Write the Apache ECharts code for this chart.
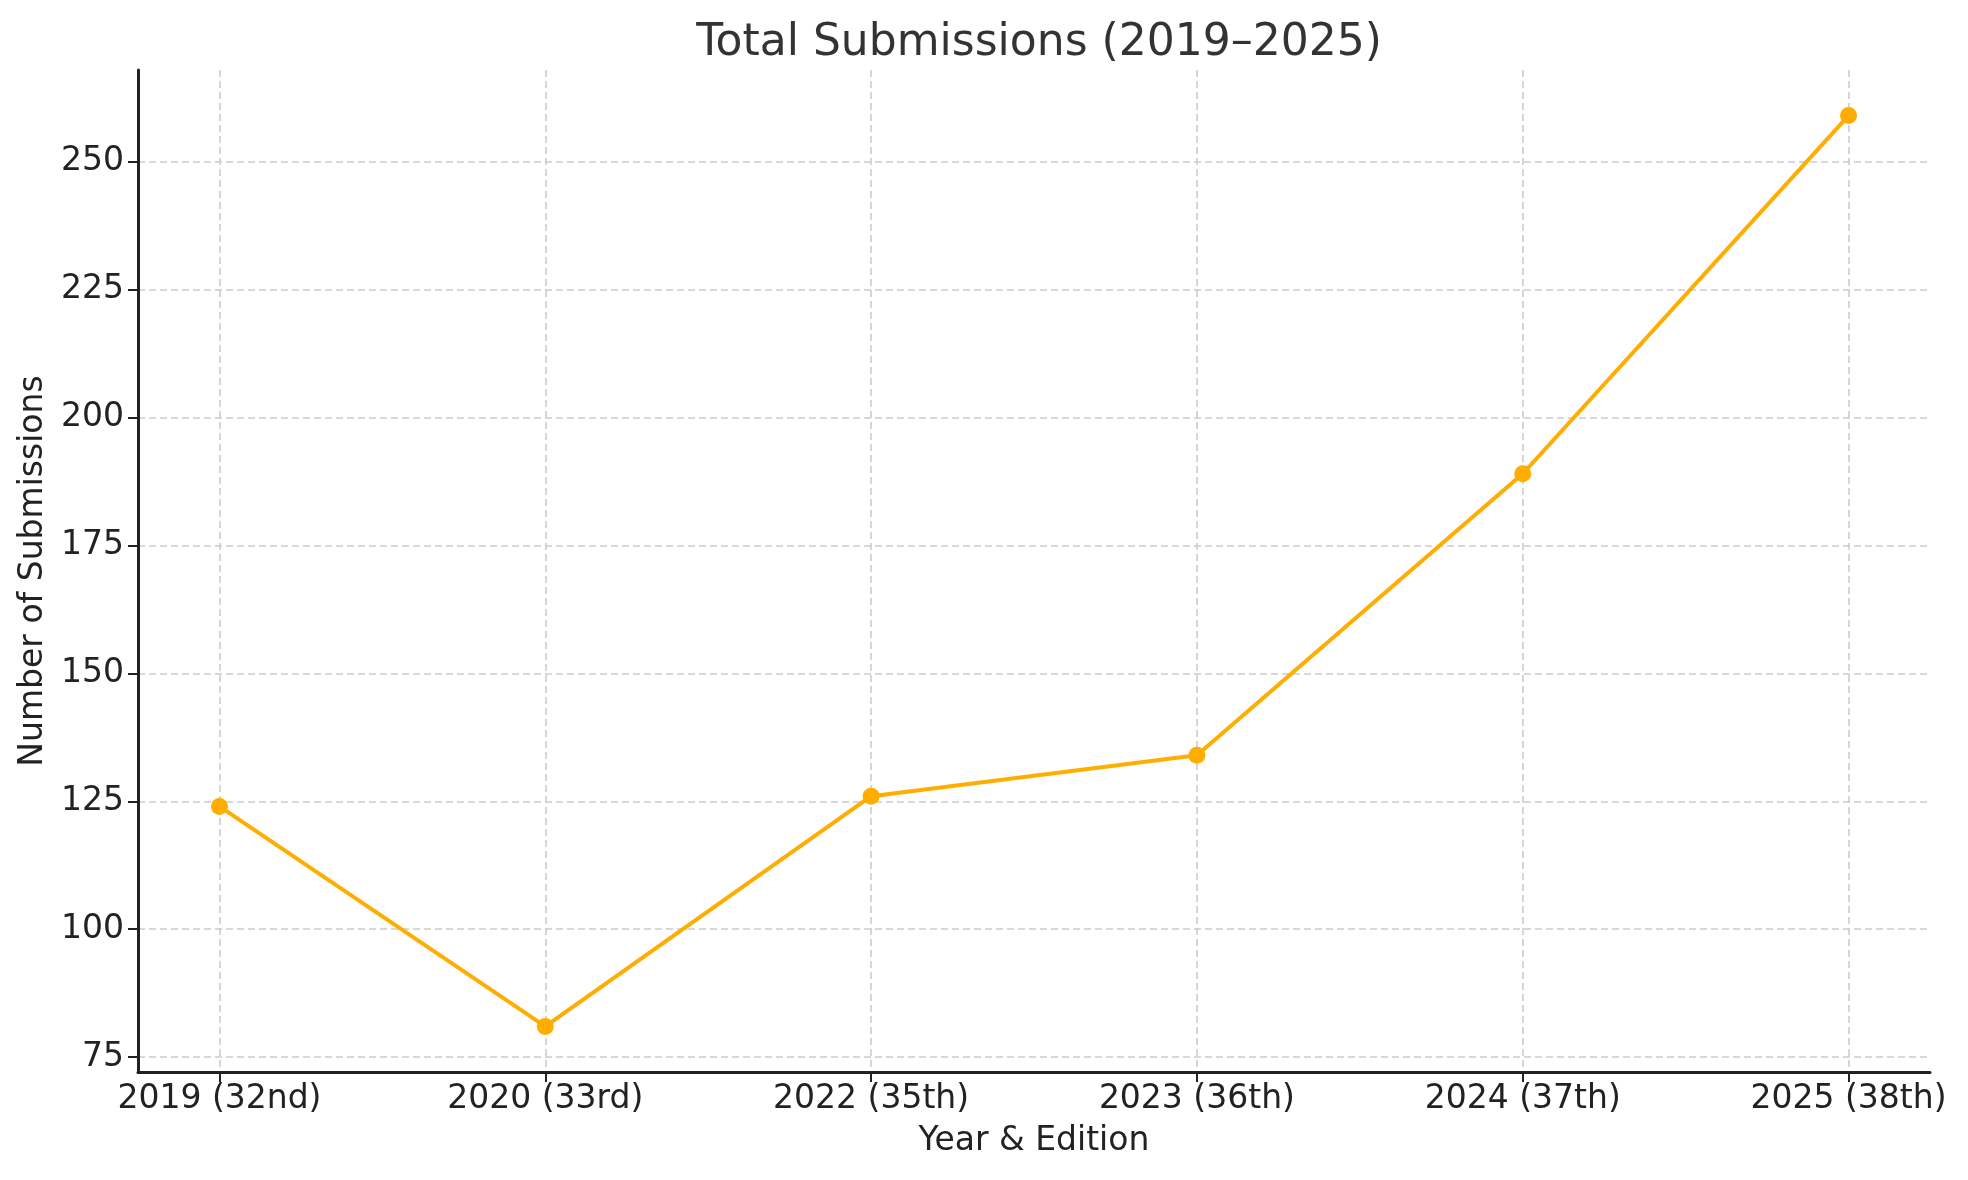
<!DOCTYPE html>
<html>
<head>
<meta charset="utf-8">
<script src="https://cdn.jsdelivr.net/npm/echarts@6/dist/echarts.min.js"></script>
<style>
html,body{margin:0;padding:0;background:#fff;}
#chart{width:1968px;height:1180px;}
</style>
</head>
<body>
<div id="chart"></div>
<script>
const categories = ['2019 (32nd)', '2020 (33rd)', '2022 (35th)', '2023 (36th)', '2024 (37th)', '2025 (38th)'];
const submissions = [124, 81, 126, 134, 189, 259];
const yTicks = [75, 100, 125, 150, 175, 200, 225, 250];
const xTicks = [0, 1, 2, 3, 4, 5];

const FONT = 'DejaVu Sans';
const chart = echarts.init(document.getElementById('chart'), null, {renderer: 'canvas'});

const pad = (Math.max(...submissions) - Math.min(...submissions)) * 0.05;
const yMin = Math.min(...submissions) - pad;
const yMax = Math.max(...submissions) + pad;

chart.setOption({
  animation: false,
  backgroundColor: '#ffffff',
  title: {
    text: 'Total Submissions (2019–2025)',
    left: 1034,
    textAlign: 'center',
    top: 17,
    textStyle: {fontFamily: FONT, fontSize: 44, fontWeight: 'normal', color: '#333333'}
  },
  grid: {left: 138, right: 38, top: 70, bottom: 108, containLabel: false},
  xAxis: {
    type: 'value',
    min: -0.25,
    max: categories.length - 1 + 0.25,
    name: 'Year & Edition',
    nameLocation: 'middle',
    nameGap: 53,
    nameTextStyle: {fontFamily: FONT, fontSize: 33, color: '#222222'},
    axisLine: {show: true, onZero: false, lineStyle: {color: '#222222', width: 3}},
    axisTick: {show: true, customValues: xTicks, length: 10, lineStyle: {color: '#222222', width: 2}},
    axisLabel: {
      customValues: xTicks,
      formatter: v => categories[Math.round(v)] || '',
      margin: 11,
      fontFamily: FONT, fontSize: 33, color: '#222222'
    },
    splitLine: {show: true, lineStyle: {color: '#cccccc', width: 1.6, type: [7, 4]}}
  },
  yAxis: {
    type: 'value',
    min: yMin,
    max: yMax,
    name: 'Number of Submissions',
    nameLocation: 'middle',
    nameGap: 86,
    nameTextStyle: {fontFamily: FONT, fontSize: 33, color: '#222222'},
    axisLine: {show: true, onZero: false, lineStyle: {color: '#222222', width: 3}},
    axisTick: {show: true, customValues: yTicks, length: 10, lineStyle: {color: '#222222', width: 2}},
    axisLabel: {
      customValues: yTicks,
      margin: 14,
      fontFamily: FONT, fontSize: 33, color: '#222222'
    },
    splitLine: {show: true, lineStyle: {color: '#cccccc', width: 1.6, type: [7, 4]}}
  },
  series: [{
    type: 'line',
    data: submissions.map((v, i) => [i, v]),
    symbol: 'circle',
    symbolSize: 17,
    lineStyle: {color: '#FFAD00', width: 4},
    itemStyle: {color: '#FFAD00'},
    z: 5
  }]
});
</script>
</body>
</html>
